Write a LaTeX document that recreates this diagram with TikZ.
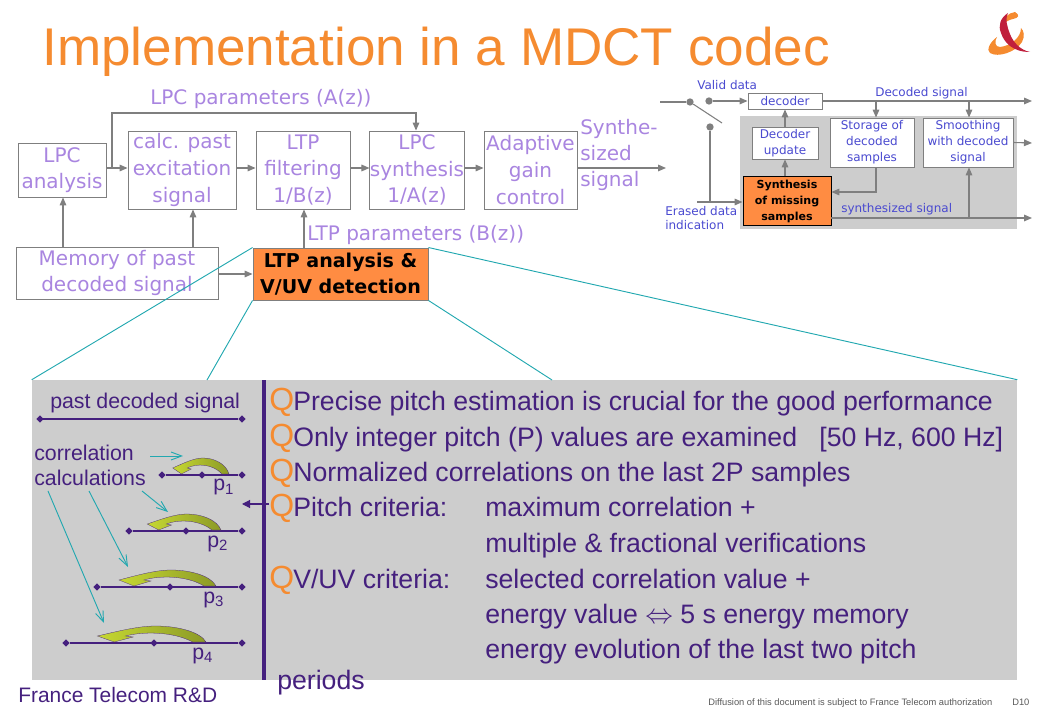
\documentclass[tikz,border=0pt]{standalone}
\usepackage{fontspec}
\setmainfont{Liberation Sans}
\newfontfamily\handfont{DejaVu Sans}
\usetikzlibrary{arrows.meta,shapes.geometric}
\definecolor{lilac}{HTML}{A985E0}
\definecolor{inkblue}{HTML}{4A4AD0}
\definecolor{flowgray}{HTML}{7F7F7F}
\definecolor{plum}{HTML}{45207E}
\definecolor{tangerine}{HTML}{F58B30}
\definecolor{boxorange}{HTML}{FF8C42}
\definecolor{panelgray}{HTML}{CDCDCD}
\definecolor{teal2}{HTML}{22A8B0}
\definecolor{arcleft}{HTML}{C6D832}
\definecolor{arcright}{HTML}{8C9A26}
\definecolor{logored}{HTML}{C01F3C}
\tikzset{
  x=0.75pt,y=-0.75pt,
  flow/.style={draw=flowgray,line width=0.8pt,-{Triangle[length=6pt,width=5pt]}},
  plain/.style={draw=flowgray,line width=0.8pt},
  bigbox/.style={draw=flowgray,line width=0.7pt,fill=white,text=lilac,align=center,inner sep=0pt,
    font=\handfont\fontsize{15}{20}\selectfont},
  bigtag/.style={text=lilac,inner sep=0pt,font=\handfont\fontsize{15}{19.5}\selectfont},
  hotbox/.style={bigbox,fill=boxorange,text=black,font=\handfont\bfseries\fontsize{14.3}{19.5}\selectfont},
  minibox/.style={draw=flowgray,line width=0.7pt,fill=white,text=inkblue,align=center,inner sep=0pt,
    font=\handfont\fontsize{9}{12}\selectfont},
  minitag/.style={text=inkblue,inner sep=0pt,align=left,font=\handfont\fontsize{9}{10.5}\selectfont},
  pin/.style={circle,fill=flowgray,inner sep=0pt,minimum size=5.5pt},
  bigline/.style={anchor=base west,inner sep=0pt,text=plum,font=\fontsize{20}{24}\selectfont},
  bullet/.style={anchor=base west,inner sep=0pt,text=tangerine,font=\fontsize{24}{28}\selectfont},
  sideline/.style={anchor=base west,inner sep=0pt,text=plum,font=\fontsize{16}{18}\selectfont},
  tick/.style={diamond,fill=plum,inner sep=0pt,minimum size=5.5pt},
  lag/.style={draw=plum,line width=0.8pt},
  zoomline/.style={draw=teal2,line width=0.7pt},
  hint/.style={draw=teal2,line width=0.7pt,-{Straight Barb[length=8pt,width=6pt]}},
  pitcharc/.pic={
    \path[draw=plum,line width=0.2pt,left color=arcleft,right color=arcright]
      (0,0) .. controls (-5,-10) and (-25,-16) .. (-45,-16)
      .. controls (-60,-16) and (-78,-11) .. (-97,-6)
      -- (-82,0) -- (-65,-5) -- (-72,-6)
      .. controls (-55,-11) and (-28,-10) .. (-12,0) -- cycle;
  }
}
\begin{document}
\begin{tikzpicture}
  \useasboundingbox (0,0) rectangle (1040,720);

  \node[anchor=base west,inner sep=0pt,text=tangerine,font=\fontsize{39.8}{48}\selectfont] (title) at (42,66)
    {Implementation in a MDCT codec};

  \fill[tangerine] (1015,12) .. controls (1020,15) and (1019,18) .. (1013,19)
    .. controls (1008,20) and (1005,22) .. (1004,25)
    .. controls (1003,18) and (1008,13) .. (1015,12) -- cycle;
  \fill[tangerine] (997,37) .. controls (990,42) and (986,50) .. (990,53)
    .. controls (998,58) and (1016,52) .. (1022,42)
    .. controls (1025,36) and (1024,31) .. (1021,28)
    .. controls (1021,38) and (1010,46) .. (1000,47)
    .. controls (995,47) and (994,42) .. (997,37) -- cycle;
  \fill[logored] (1008,13) .. controls (1000,18) and (998,26) .. (1001,33)
    .. controls (1004,42) and (1012,52) .. (1030,52)
    .. controls (1020,50) and (1013,42) .. (1010,34)
    .. controls (1007,26) and (1005,20) .. (1008,13) -- cycle;

  \node[fill=panelgray,inner sep=0pt,minimum width=207.75pt,minimum height=84.75pt] (minipanel) at (878.5,172.5) {};
  \node[fill=panelgray,inner sep=0pt,minimum width=738.75pt,minimum height=225pt] (panel) at (524.5,530) {};
  \node[fill=plum,inner sep=0pt,minimum width=3pt,minimum height=225pt] (bar) at (264,530) {};

  \begin{scope}
    \node[bigbox,minimum width=66pt,minimum height=40.5pt] (lpc) at (62,170) {LPC\\analysis};
    \node[bigbox,minimum width=81pt,minimum height=58.5pt] (calc) at (182,170) {calc. past\\excitation\\signal};
    \node[bigbox,minimum width=70.5pt,minimum height=58.5pt] (ltpf) at (303,170) {LTP\\filtering\\1/B(z)};
    \node[bigbox,minimum width=70.5pt,minimum height=58.5pt] (lpcs) at (417,170) {LPC\\synthesis\\1/A(z)};
    \node[bigbox,minimum width=69.75pt,minimum height=58.5pt] (agc) at (530.5,170) {Adaptive\\gain\\control};
    \node[bigbox,minimum width=151.5pt,minimum height=39pt] (mem) at (117,273) {Memory of past\\decoded signal};
    \node[hotbox,minimum width=131.25pt,minimum height=39pt] (ltpa) at (340.5,274) {LTP analysis \&\\V/UV detection};
    \node[bigtag,anchor=west] (tagA) at (150,99) {LPC parameters (A(z))};
    \node[bigtag,anchor=west] (tagB) at (307,235) {LTP parameters (B(z))};
    \node[bigtag,anchor=west,align=left] (tagS) at (580,155) {Synthe-\\sized\\signal};
  \end{scope}

  \coordinate (row) at (0,168);
  \coordinate (branch) at (112,168);
  \coordinate (bendA) at (112,113);
  \coordinate (bendB) at (416,113);
  \coordinate (lpcout) at (666,168);
  \coordinate (memA) at (63,247);
  \coordinate (memB) at (193,247);
  \coordinate (ltpup) at (304,248);

  \begin{scope}[every edge/.style={flow}]
    \path (lpc.east |- row) edge (calc.west |- row);
    \path (calc.east |- row) edge (ltpf.west |- row);
    \path (ltpf.east |- row) edge (lpcs.west |- row);
    \path (lpcs.east |- row) edge (agc.west |- row);
    \path (agc.east |- row) edge (lpcout);
    \path (memA) edge (memA |- lpc.south);
    \path (memB) edge (memB |- calc.south);
    \path (ltpup) edge (ltpup |- ltpf.south);
    \path (mem.east |- ltpa) edge (ltpa.west);
  \end{scope}
  \draw[flow] (branch) -- (bendA) -- (bendB) -- (bendB |- lpcs.north);

  \coordinate (zoomA) at (207,380);
  \coordinate (zoomB) at (552,380);
  \draw[zoomline] (ltpa.north west) -- (panel.north west);
  \draw[zoomline] (ltpa.south west) -- (zoomA);
  \draw[zoomline] (ltpa.north east) -- (panel.north east);
  \draw[zoomline] (ltpa.south east) -- (zoomB);

  \begin{scope}
    \node[minibox,minimum width=55.5pt,minimum height=12pt] (decoder) at (785,101) {decoder};
    \node[minibox,minimum width=49.5pt,minimum height=24pt] (update) at (785,143) {Decoder\\update};
    \node[minibox,minimum width=63pt,minimum height=36.75pt] (storage) at (872,142.5) {Storage of\\decoded\\samples};
    \node[minibox,minimum width=67.5pt,minimum height=36.75pt] (smooth) at (968,142.5) {Smoothing\\with decoded\\signal};
    \node[minibox,draw=black,fill=boxorange,text=black,minimum width=66pt,minimum height=36.75pt,
      font=\handfont\bfseries\fontsize{8.3}{12}\selectfont] (synth) at (787,201) {Synthesis\\of missing\\samples};
    \node[pin] (pinA) at (690,102) {};
    \node[pin] (pinB) at (709,101) {};
    \node[pin] (pinC) at (710,127) {};
    \node[minitag,anchor=west] (tagvalid) at (697,85) {Valid data};
    \node[minitag,anchor=west] (tagdec) at (875,93) {Decoded signal};
    \node[minitag,anchor=west] (tagerased) at (665,218) {Erased data\\indication};
    \node[minitag,anchor=west] (tagsyn) at (841,209) {synthesized signal};
  \end{scope}

  \coordinate (inL) at (660,102);
  \coordinate (swEnd) at (722,123);
  \coordinate (decOut) at (1032,101);
  \coordinate (tapA) at (876,101);
  \coordinate (tapB) at (969,101);
  \coordinate (smoothOut) at (1032,143);
  \coordinate (erasedL) at (697,202);
  \coordinate (erasedM) at (710,202);
  \coordinate (storeBend) at (876,192);
  \coordinate (synOut) at (1032,218);
  \coordinate (tapC) at (969,218);

  \draw[plain] (inL) -- (pinA);
  \draw[plain] (pinA) -- (swEnd);
  \draw[plain] (pinC) -- (erasedM);
  \begin{scope}[every edge/.style={flow}]
    \path (pinB) edge (decoder.west);
    \path (decoder.east) edge (decOut);
    \path (tapA) edge (tapA |- storage.north);
    \path (tapB) edge (tapB |- smooth.north);
    \path (smooth.east) edge (smoothOut);
    \path (erasedL) edge (erasedL -| synth.west);
    \path (synth.east |- synOut) edge (synOut);
    \path (tapC) edge (tapC |- smooth.south);
    \path (synth.north -| update) edge (update.south);
    \path (update.north) edge (decoder.south -| update);
  \end{scope}
  \draw[flow] (storeBend |- storage.south) -- (storeBend) -- (storeBend -| synth.east);

  \begin{scope}
    \node[bullet] (qA) at (269,411) {Q};
    \node[bullet] (qB) at (269,447) {Q};
    \node[bullet] (qC) at (269,482) {Q};
    \node[bullet] (qD) at (269,517) {Q};
    \node[bullet] (qE) at (269,588) {Q};
    \node[bigline] (lineA) at (293,411) {Precise pitch estimation is crucial for the good performance};
    \node[bigline] (lineB) at (293,447) {Only integer pitch (P) values are examined\ \ \ [50 Hz, 600 Hz]};
    \node[bigline] (lineC) at (293,482) {Normalized correlations on the last 2P samples};
    \node[bigline] (lineD) at (293,517) {Pitch criteria:};
    \node[bigline] (lineDa) at (485,517) {maximum correlation +};
    \node[bigline] (lineDb) at (485,552) {multiple \& fractional verifications};
    \node[bigline] (lineE) at (293,588) {V/UV criteria:};
    \node[bigline] (lineEa) at (485,588) {selected correlation value +};
    \node[bigline] (lineEb) at (485,623) {energy value $\Leftrightarrow$ 5 s energy memory};
    \node[bigline] (lineEc) at (485,658) {energy evolution of the last two pitch};
    \node[bigline] (lineF) at (277,689) {periods};
  \end{scope}

  \begin{scope}[every node/.style={tick}]
    \node (sigL) at (40,419) {};
    \node (sigR) at (242,419) {};
    \node (aL) at (162,475) {};
    \node (aM) at (202,475) {};
    \node (aR) at (242,475) {};
    \node (bL) at (129,531) {};
    \node (bM) at (186,531) {};
    \node (bR) at (242,531) {};
    \node (cL) at (97,587) {};
    \node (cM) at (170,587) {};
    \node (cR) at (242,587) {};
    \node (dL) at (66,643) {};
    \node (dM) at (154,643) {};
    \node (dR) at (242,643) {};
  \end{scope}

  \draw[lag] (sigL.center) -- (sigR);
  \draw[lag] (aL) -- (aR);
  \draw[lag] (bL) -- (bR);
  \draw[lag] (cL) -- (cR);
  \draw[lag] (dL) -- (dR);

  \pic[xscale=0.58] at (229,474) {pitcharc};
  \pic[xscale=0.76] at (221,530) {pitcharc};
  \pic at (216,586) {pitcharc};
  \pic[xscale=1.12] at (206,642) {pitcharc};

  \node[sideline] (past) at (50,409) {past decoded signal};
  \node[sideline] (corrA) at (34,461) {correlation};
  \node[sideline] (corrB) at (34,485) {calculations};
  \node[sideline] (pA) at (213,491) {p\textsubscript{1}};
  \node[sideline] (pB) at (207,547) {p\textsubscript{2}};
  \node[sideline] (pC) at (203,603) {p\textsubscript{3}};
  \node[sideline] (pD) at (192,659) {p\textsubscript{4}};

  \coordinate (hintA) at (150,456);
  \coordinate (hintAend) at (183,456);
  \coordinate (hintB) at (142,491);
  \coordinate (hintBend) at (168,512);
  \coordinate (hintC) at (89,491);
  \coordinate (hintCend) at (128,567);
  \coordinate (hintD) at (48,491);
  \coordinate (hintDend) at (104,623);
  \coordinate (critEnd) at (242,504);

  \begin{scope}[every edge/.style={hint}]
    \path (hintA) edge (hintAend);
    \path (hintB) edge (hintBend);
    \path (hintC) edge (hintCend);
    \path (hintD) edge (hintDend);
  \end{scope}
  \draw[draw=plum,line width=0.8pt,-{Triangle[length=6pt,width=6pt]}] (qD.west |- critEnd) -- (critEnd);

  \node[anchor=base west,inner sep=0pt,text=plum,font=\fontsize{15.7}{18}\selectfont] (brand) at (18,702) {France Telecom R\&D};
  \node[anchor=base west,inner sep=0pt,text=black!65,font=\fontsize{7}{8}\selectfont] (notice) at (708,705)
    {Diffusion of this document is subject to France Telecom authorization};
  \node[anchor=base west,inner sep=0pt,text=black!65,font=\fontsize{7}{8}\selectfont] (slideno) at (1012,705) {D10};
\end{tikzpicture}
\end{document}
